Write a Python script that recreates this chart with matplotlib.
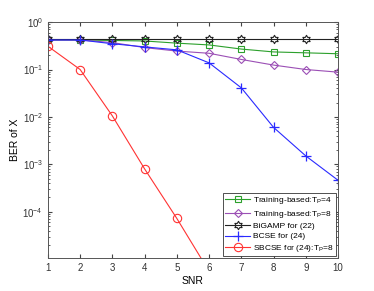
import matplotlib
matplotlib.use("Agg")
import matplotlib.pyplot as plt
import numpy as np
from matplotlib.ticker import LogLocator, FixedLocator, NullFormatter
from matplotlib.path import Path

snr = [1, 2, 3, 4, 5, 6, 7, 8, 9, 10]
train_tp4 = [0.42, 0.42, 0.41, 0.40, 0.36, 0.33, 0.27, 0.235, 0.225, 0.215]
train_tp8 = [0.42, 0.42, 0.37, 0.29, 0.245, 0.22, 0.163, 0.124, 0.10, 0.088]
bigamp = [0.45, 0.45, 0.45, 0.45, 0.45, 0.45, 0.45, 0.45, 0.45, 0.45]
bcse = [0.42, 0.42, 0.35, 0.30, 0.26, 0.138, 0.041, 0.006, 0.0015, 0.00046]
sbcse = [0.31, 0.10, 0.0105, 0.0008, 0.000072, 0.0000055]
sbcse_snr = [1, 2, 3, 4, 5, 6]

labels = ["Training-based:T$_\\mathrm{P}$=4", "Training-based:T$_\\mathrm{P}$=8",
          "BiGAMP for (22)", "BCSE for (24)", "SBCSE for (24):T$_\\mathrm{P}$=8"]

# hexagram marker
ang = np.pi / 2 + np.arange(12) * np.pi / 6
rad = np.where(np.arange(12) % 2 == 0, 1.0, 1 / np.sqrt(3))
verts = np.column_stack([rad * np.cos(ang), rad * np.sin(ang)])
verts = np.vstack([verts, verts[0]])
hexagram = Path(verts, [Path.MOVETO] + [Path.LINETO] * 11 + [Path.CLOSEPOLY])

plt.rcParams['font.family'] = ['Liberation Sans', 'DejaVu Sans']
plt.rcParams['mathtext.fontset'] = 'custom'
plt.rcParams['mathtext.rm'] = 'Liberation Sans'
fig = plt.figure(figsize=(3.74, 2.91), dpi=100)
ax = fig.add_axes([0.128, 0.113, 0.776, 0.811])

lw = 0.8
ax.plot(snr, train_tp4, color='#2ca02c', marker='s', ms=4.5, mfc='none', lw=lw, mew=0.8, label=labels[0])
ax.plot(snr, train_tp8, color='#9b4fb5', marker='D', ms=4.5, mfc='none', lw=lw, mew=0.8, label=labels[1])
ax.plot(snr, bigamp, color='#222222', marker=hexagram, ms=6, mfc='none', lw=lw, mew=0.8, label=labels[2])
ax.plot(snr, bcse, color='#2a2aff', marker='+', ms=7, lw=lw, mew=0.9, label=labels[3])
ax.plot(sbcse_snr, sbcse, color='#ff3333', marker='o', ms=6, mfc='none', lw=lw, mew=0.8, label=labels[4])

ax.set_yscale('log')
ax.set_xlim(1, 10)
ax.set_ylim(1.05e-5, 1)
ax.set_xticks(snr)
ax.yaxis.set_major_locator(FixedLocator([1e-4, 1e-3, 1e-2, 1e-1, 1]))
ax.yaxis.set_minor_locator(LogLocator(base=10, subs=np.arange(2, 10), numticks=20))
ax.yaxis.set_minor_formatter(NullFormatter())
ax.tick_params(axis='both', which='both', direction='in', top=True, right=True,
               labelsize=7, colors='#444444', labelcolor='#333333')
ax.tick_params(which='major', length=3)
ax.tick_params(which='minor', length=1.6)
for s in ax.spines.values():
    s.set_color('#555555')
    s.set_linewidth(0.7)

ax.set_xlabel('SNR', fontsize=7.5, labelpad=2)
ax.set_ylabel('BER of X', fontsize=7.5, labelpad=2)

leg = ax.legend(loc='lower right', fontsize=6, handlelength=3.0, handletextpad=0.4,
                borderpad=0.3, labelspacing=0.3, fancybox=False, framealpha=1,
                borderaxespad=0.2)
leg.get_frame().set_edgecolor('#333333')
leg.get_frame().set_linewidth(0.6)

fig.savefig('out.png', dpi=100)
